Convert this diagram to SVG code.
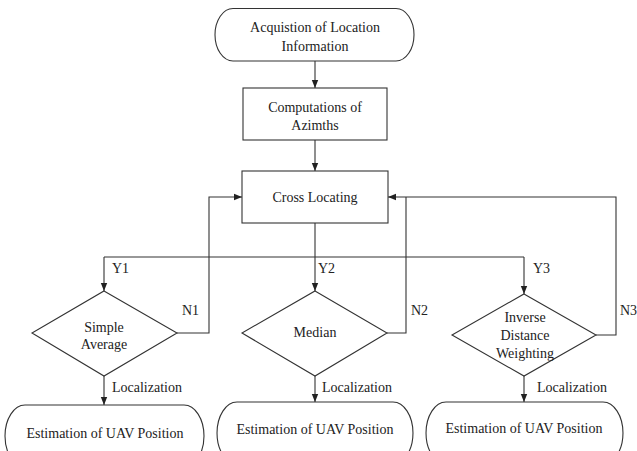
<svg xmlns="http://www.w3.org/2000/svg" width="637" height="451" viewBox="0 0 637 451">
<defs>
<marker id="ah" viewBox="0 0 8 8" refX="8" refY="4" markerWidth="8" markerHeight="8" markerUnits="userSpaceOnUse" orient="auto">
<path d="M0,0.8 L8,4 L0,7.2 Z" fill="#222"/>
</marker>
<style>
.s{fill:#fff;stroke:#333;stroke-width:1.1}
.c{fill:none;stroke:#333;stroke-width:1.1}
text{font-family:"Liberation Serif","Times New Roman",serif;font-size:14px;fill:#222}
.m{text-anchor:middle}
</style>
</defs>
<rect width="637" height="451" fill="#fff"/>
<g id="connectors">
<path class="c" d="M315,61 V88" marker-end="url(#ah)"/>
<path class="c" d="M315,140 V171" marker-end="url(#ah)"/>
<path class="c" d="M315,223 V291" marker-end="url(#ah)"/>
<path class="c" d="M104,257 H524"/>
<path class="c" d="M104,257 V291" marker-end="url(#ah)"/>
<path class="c" d="M524,257 V294" marker-end="url(#ah)"/>
<path class="c" d="M177,333 H209 V197 H242" marker-end="url(#ah)"/>
<path class="c" d="M387,333 H406 V197"/>
<path class="c" d="M596,335 H616 V197 H388" marker-end="url(#ah)"/>
<path class="c" d="M104,376 V405" marker-end="url(#ah)"/>
<path class="c" d="M315,376 V402" marker-end="url(#ah)"/>
<path class="c" d="M524,376 V402" marker-end="url(#ah)"/>
<text x="112" y="273">Y1</text>
<text x="318" y="273">Y2</text>
<text x="533" y="273">Y3</text>
<text x="182" y="315">N1</text>
<text x="411" y="315">N2</text>
<text x="620" y="315">N3</text>
<text x="112" y="392">Localization</text>
<text x="322" y="392">Localization</text>
<text x="537" y="392">Localization</text>
</g>
<g id="acquisition">
<path class="s" d="M233,8.5 H396 A18,26.25 0 0 1 396,61 H233 A18,26.25 0 0 1 233,8.5 Z"/>
<text class="m" x="315" y="32">Acquistion of Location</text>
<text class="m" x="315" y="51">Information</text>
</g>
<g id="azimuths">
<rect class="s" x="243" y="88" width="144" height="52"/>
<text class="m" x="315" y="112">Computations of</text>
<text class="m" x="315" y="130">Azimths</text>
</g>
<g id="cross">
<rect class="s" x="242" y="171" width="146" height="52"/>
<text class="m" x="315" y="202">Cross Locating</text>
</g>
<g id="simple">
<path class="s" d="M104,291 L177,333 L104,376 L32,333 Z"/>
<text class="m" x="104" y="332">Simple</text>
<text class="m" x="104" y="349">Average</text>
</g>
<g id="median">
<path class="s" d="M315,291 L387,333 L315,376 L242,333 Z"/>
<text class="m" x="315" y="337">Median</text>
</g>
<g id="idw">
<path class="s" d="M524,294 L596,335 L524,376 L452,335 Z"/>
<text class="m" x="525" y="322">Inverse</text>
<text class="m" x="525" y="340">Distance</text>
<text class="m" x="525" y="358">Weighting</text>
</g>
<g id="est1">
<path class="s" d="M25,405 H184 A20,31 0 0 1 184,467 H25 A20,31 0 0 1 25,405 Z"/>
<text class="m" x="105" y="438">Estimation of UAV Position</text>
</g>
<g id="est2">
<path class="s" d="M237,402 H393 A20,31 0 0 1 393,464 H237 A20,31 0 0 1 237,402 Z"/>
<text class="m" x="315" y="434">Estimation of UAV Position</text>
</g>
<g id="est3">
<path class="s" d="M446,402 H603 A20,31 0 0 1 603,464 H446 A20,31 0 0 1 446,402 Z"/>
<text class="m" x="524" y="433">Estimation of UAV Position</text>
</g>
</svg>
